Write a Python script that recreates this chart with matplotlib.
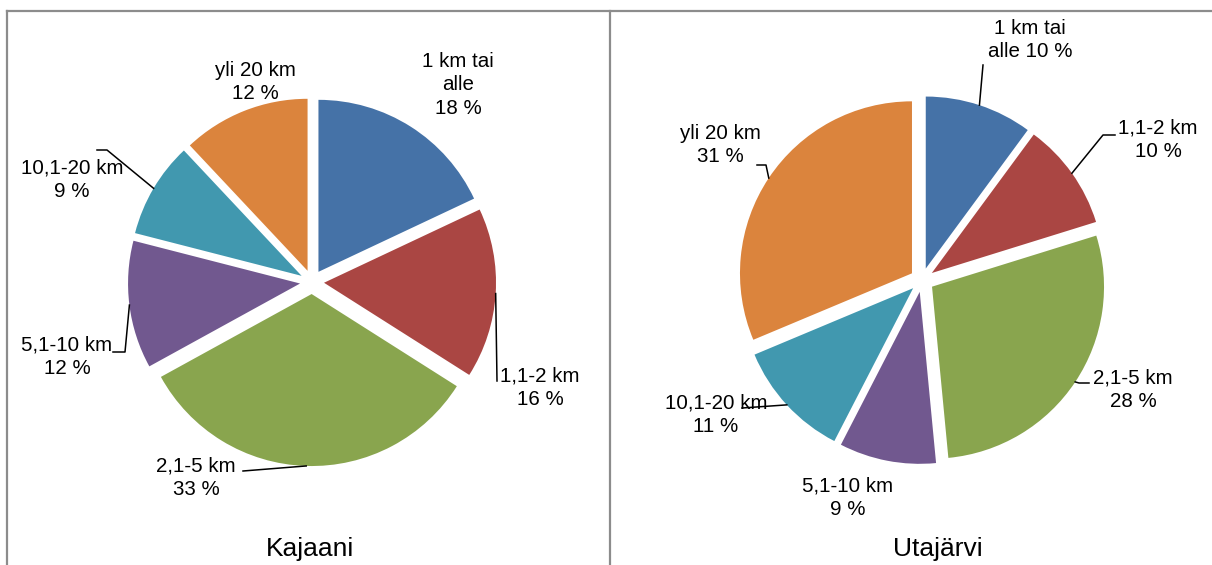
import matplotlib
matplotlib.use("Agg")
import matplotlib.pyplot as plt
from matplotlib.lines import Line2D
import numpy as np

plt.rcParams['font.family'] = ['Liberation Sans', 'DejaVu Sans']

categories = ["1 km tai alle", "1,1-2 km", "2,1-5 km", "5,1-10 km", "10,1-20 km", "yli 20 km"]
kajaani_values = [18, 16, 33, 12, 9, 12]
utajarvi_values = [10, 10, 28, 9, 11, 31]
titles = ["Kajaani", "Utajärvi"]
colors = ["#4572A7", "#AA4643", "#89A54E", "#71588F", "#4198AF", "#DB843D"]

# label texts as shown in the reference
kajaani_labels = ["1 km tai\nalle\n{} %", "1,1-2 km\n{} %", "2,1-5 km\n{} %",
                  "5,1-10 km\n{} %", "10,1-20 km\n{} %", "yli 20 km\n{} %"]
utajarvi_labels = ["1 km tai\nalle {} %", "1,1-2 km\n{} %", "2,1-5 km\n{} %",
                   "5,1-10 km\n{} %", "10,1-20 km\n{} %", "yli 20 km\n{} %"]

W, H = 1212, 565
fig = plt.figure(figsize=(W / 100, H / 100), dpi=100)
fig.patch.set_facecolor("white")


def fx(x):
    return x / W


def fy(y):
    return 1 - y / H


# panel borders
border_col = "#8c8c8c"
for xs, ys in [([7, 1212], [11, 11]), ([7, 7], [11, 565]), ([610, 610], [11, 565])]:
    fig.add_artist(Line2D([fx(v) for v in xs], [fy(v) for v in ys],
                          transform=fig.transFigure, color=border_col, lw=1.6))

R = 172
EXP = 0.07
LIM = 1.15

panels = [
    dict(values=kajaani_values, labels=kajaani_labels, center=(312, 282), title_pos=(310, 549),
         label_pos=[(458, 85), (540, 388), (196, 478), (67, 357), (72, 180), (255, 82)],
         leader=[None, [(497, 381)], [(243, 471)], [(113, 352), (125, 352)],
                 [(97, 150), (107, 150)], None]),
    dict(values=utajarvi_values, labels=utajarvi_labels, center=(922, 280), title_pos=(938, 549),
         label_pos=[(1030, 40), (1158, 140), (1133, 390), (848, 498), (716, 415), (720, 145)],
         leader=[[(983, 65)], [(1115, 135), (1103, 135)], [(1089, 383), (1079, 383)], None,
                 [(742, 408)], [(757, 165), (766, 165)]]),
]

for p, title in zip(panels, titles):
    cx, cy = p["center"]
    half = R * LIM
    ax = fig.add_axes([fx(cx - half), fy(cy + half), 2 * half / W, 2 * half / H])
    vals = p["values"]
    wedges, _ = ax.pie(vals, colors=colors, startangle=90, counterclock=False,
                       explode=[EXP] * len(vals), radius=1.0,
                       wedgeprops=dict(linewidth=0))
    ax.set_xlim(-LIM, LIM)
    ax.set_ylim(-LIM, LIM)
    ax.set_aspect("equal")
    ax.axis("off")

    total = sum(vals)
    pct = [round(v / total * 100) for v in vals]
    for i, w in enumerate(wedges):
        lx, ly = p["label_pos"][i]
        fig.text(fx(lx), fy(ly), p["labels"][i].format(pct[i]), ha="center", va="center",
                 fontsize=14.8, color="black", linespacing=1.28)
        if p["leader"][i] is not None:
            mid = np.deg2rad((w.theta1 + w.theta2) / 2)
            # wedge point at mid angle (exploded)
            px_d = (1 + EXP) * np.cos(mid)
            py_d = (1 + EXP) * np.sin(mid)
            disp = ax.transData.transform((px_d, py_d))
            figpt = fig.transFigure.inverted().transform(disp)
            xs = [fx(a) for a, b in p["leader"][i]] + [figpt[0]]
            ys = [fy(b) for a, b in p["leader"][i]] + [figpt[1]]
            fig.add_artist(Line2D(xs, ys, transform=fig.transFigure, color="black", lw=1.1))

    tx, ty = p["title_pos"]
    fig.text(fx(tx), fy(ty), title, ha="center", va="center", fontsize=19, color="black")

fig.savefig("out.png", dpi=100)
